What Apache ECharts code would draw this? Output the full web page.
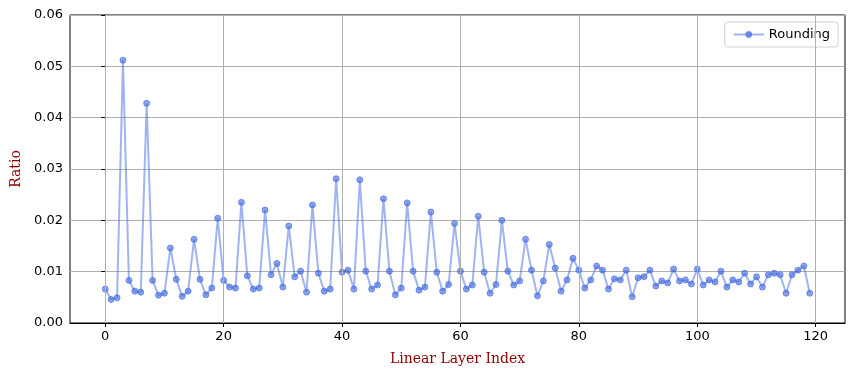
<!DOCTYPE html>
<html>
<head>
<meta charset="utf-8">
<script src="https://cdn.jsdelivr.net/npm/echarts@6/dist/echarts.min.js"></script>
<style>
  html, body { margin: 0; padding: 0; background: #fff; }
  #chart { width: 855px; height: 376px; }
</style>
</head>
<body>
<div id="chart"></div>
<script>
// ratio per linear layer (index 0..119)
const ratio = [
  0.0066, 0.0046, 0.0049, 0.0512, 0.0083, 0.0062, 0.0060, 0.0428, 0.0083, 0.0054,
  0.0058, 0.0146, 0.0085, 0.0052, 0.0062, 0.0163, 0.0085, 0.0055, 0.0068, 0.0204,
  0.0083, 0.0070, 0.0068, 0.0235, 0.0092, 0.0066, 0.0068, 0.0220, 0.0094, 0.0116,
  0.0070, 0.0189, 0.0090, 0.0101, 0.0060, 0.0230, 0.0097, 0.0062, 0.0066, 0.0281,
  0.0099, 0.0103, 0.0066, 0.0279, 0.0101, 0.0066, 0.0074, 0.0242, 0.0101, 0.0055,
  0.0068, 0.0234, 0.0101, 0.0064, 0.0070, 0.0216, 0.0099, 0.0062, 0.0075, 0.0194,
  0.0101, 0.0066, 0.0074, 0.0208, 0.0099, 0.0058, 0.0075, 0.0200, 0.0101, 0.0074,
  0.0082, 0.0163, 0.0103, 0.0053, 0.0082, 0.0153, 0.0107, 0.0062, 0.0084, 0.0126,
  0.0103, 0.0068, 0.0084, 0.0111, 0.0103, 0.0066, 0.0086, 0.0084, 0.0103, 0.0051,
  0.0088, 0.0090, 0.0103, 0.0072, 0.0082, 0.0078, 0.0105, 0.0082, 0.0084, 0.0076,
  0.0105, 0.0074, 0.0084, 0.0080, 0.0101, 0.0070, 0.0084, 0.0080, 0.0097, 0.0076,
  0.0090, 0.0070, 0.0094, 0.0097, 0.0094, 0.0058, 0.0094, 0.0103, 0.0111, 0.0058
];
const xTicks = [0, 20, 40, 60, 80, 100, 120];
const seriesName = 'Rounding';

const points = ratio.map((v, i) => [i, v]);

const chart = echarts.init(document.getElementById('chart'));

const option = {
  animation: false,
  grid: {
    left: 70, right: 10, top: 15, bottom: 53,
    outerBoundsMode: 'none',
    containLabel: false,
    show: true, borderColor: '#000', borderWidth: 1
  },
  legend: {
    data: [seriesName],
    right: 17, top: 22,
    padding: [6, 8, 6, 8],
    itemWidth: 30, itemHeight: 6, itemGap: 6,
    borderColor: '#d0d0d0', borderWidth: 1, borderRadius: 3,
    backgroundColor: '#fff',
    textStyle: { fontFamily: 'DejaVu Sans', fontSize: 13, color: '#000' }
  },
  xAxis: {
    type: 'value',
    min: -5.95, max: 124.95,
    name: 'Linear Layer Index',
    nameLocation: 'middle', nameGap: 29,
    nameTextStyle: { fontFamily: 'DejaVu Serif', fontSize: 14, color: '#8b0000' },
    axisLine: { show: true, lineStyle: { color: '#000' } },
    axisTick: { show: true, length: 4, customValues: xTicks, lineStyle: { color: '#000' } },
    axisLabel: {
      customValues: xTicks, margin: 7,
      fontFamily: 'DejaVu Sans', fontSize: 13, color: '#000'
    },
    splitLine: { show: false }
  },
  yAxis: {
    type: 'value',
    min: 0, max: 0.06, interval: 0.01,
    name: 'Ratio',
    nameLocation: 'middle', nameGap: 46,
    nameTextStyle: { fontFamily: 'DejaVu Serif', fontSize: 14, color: '#8b0000' },
    axisLine: { show: true, lineStyle: { color: '#000' } },
    axisTick: { show: true, length: 4, lineStyle: { color: '#000' } },
    axisLabel: {
      margin: 7, formatter: v => v.toFixed(2),
      fontFamily: 'DejaVu Sans', fontSize: 13, color: '#000'
    },
    splitLine: { show: true, lineStyle: { color: '#b0b0b0', width: 1 } }
  },
  series: [
    {
      // carrier for the vertical grid lines, kept below the data line
      type: 'line', z: 1, silent: true,
      data: [[0, 0]], showSymbol: false,
      lineStyle: { opacity: 0 },
      markLine: {
        silent: true, symbol: 'none', label: { show: false },
        lineStyle: { color: '#b0b0b0', width: 1, type: 'solid' },
        data: xTicks.map(t => ({ xAxis: t }))
      }
    },
    {
      name: seriesName,
      type: 'line', z: 3,
      data: points,
      symbol: 'circle', symbolSize: 6,
      lineStyle: { color: 'rgba(65,105,225,0.5)', width: 2 },
      itemStyle: { color: 'rgba(65,105,225,0.6)', borderColor: 'rgba(65,105,225,0.65)', borderWidth: 1 }
    }
  ]
};

chart.setOption(option);
</script>
</body>
</html>
